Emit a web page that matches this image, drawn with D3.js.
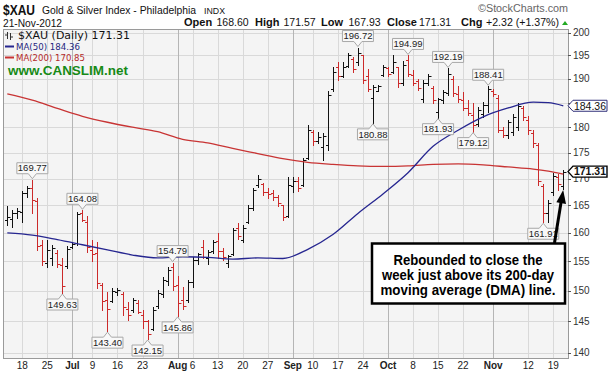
<!DOCTYPE html>
<html>
<head>
<meta charset="utf-8">
<script src="https://cdn.jsdelivr.net/npm/d3@7"></script>
<style>
body { margin: 0; background: #fff; }
svg { display: block; font-family: "Liberation Sans", Arial, sans-serif; }
</style>
</head>
<body>
<svg width="610" height="374"></svg>
<script>
// trading days, Jun 13 - Nov 21 2012 (MM-DD)
const dates = [
  "06-13","06-14","06-15","06-18","06-19","06-20","06-21","06-22","06-25","06-26","06-27","06-28","06-29",
  "07-02","07-03","07-05","07-06","07-09","07-10","07-11","07-12","07-13","07-16","07-17","07-18","07-19","07-20",
  "07-23","07-24","07-25","07-26","07-27","07-30","07-31",
  "08-01","08-02","08-03","08-06","08-07","08-08","08-09","08-10","08-13","08-14","08-15","08-16","08-17",
  "08-20","08-21","08-22","08-23","08-24","08-27","08-28","08-29","08-30","08-31",
  "09-04","09-05","09-06","09-07","09-10","09-11","09-12","09-13","09-14","09-17","09-18","09-19","09-20","09-21",
  "09-24","09-25","09-26","09-27","09-28",
  "10-01","10-02","10-03","10-04","10-05","10-08","10-09","10-10","10-11","10-12","10-15","10-16","10-17","10-18","10-19",
  "10-22","10-23","10-24","10-25","10-26","10-31",
  "11-01","11-02","11-05","11-06","11-07","11-08","11-09","11-12","11-13","11-14","11-15","11-16","11-19","11-20","11-21"
];

const open = [
  162.4,162.5,163.5,163.8,167.2,168.3,165.8,157.8,154.8,155.5,156.5,154.3,154.2,
  157.5,158.2,163.6,162.0,157.0,156.5,151.0,148.5,148.3,149.8,149.5,147.0,146.8,148.0,
  146.0,145.0,143.8,147.5,149.5,151.6,154.0,
  151.0,148.5,148.5,151.5,155.3,157.5,155.5,156.8,158.5,156.8,154.8,156.3,160.8,
  158.8,162.0,164.5,168.8,169.0,167.5,167.2,166.5,165.0,163.0,
  168.5,169.5,168.8,174.0,179.0,177.2,176.0,176.5,187.8,192.5,190.6,192.8,194.2,193.5,
  195.0,190.5,186.0,187.5,190.8,
  192.3,191.5,192.5,189.0,194.0,190.8,189.5,185.8,189.0,188.0,183.0,185.5,187.0,190.0,186.8,
  185.5,184.0,182.5,180.6,182.6,184.5,
  187.5,186.0,179.5,178.5,179.0,180.0,184.0,181.5,178.8,176.5,168.5,163.5,167.5,170.2,168.60
];
const high = [
  164.8,164.1,164.5,167.6,168.6,169.77,166.4,158.7,158.7,157.8,157.0,155.5,157.6,
  158.3,163.7,164.08,163.0,158.8,158.3,151.3,149.8,150.4,150.4,149.8,148.1,148.8,148.5,
  146.8,145.2,147.3,150.1,152.3,154.0,154.79,
  152.5,150.6,151.8,155.7,156.5,158.7,157.0,158.7,159.9,157.4,156.1,160.9,161.8,
  161.4,165.0,168.2,170.7,169.2,168.2,167.8,166.9,165.0,170.3,
  170.3,170.3,174.0,180.4,179.4,179.0,178.8,187.4,192.6,193.5,193.5,195.6,194.6,196.72,
  195.1,192.0,188.6,188.7,192.9,
  192.6,195.0,192.6,193.7,194.99,191.8,190.0,189.7,190.9,188.5,186.0,187.6,192.19,190.5,188.4,
  187.2,185.5,184.9,184.2,185.2,188.41,
  187.8,186.5,180.0,181.4,182.7,184.9,184.3,182.2,179.4,176.8,169.0,166.0,171.0,170.8,171.57
];
const low = [
  161.4,161.0,162.7,162.0,166.6,163.5,157.0,154.4,154.0,154.4,154.0,149.63,153.8,
  157.3,157.9,162.1,156.6,155.0,150.5,146.8,143.40,148.2,149.3,146.0,145.2,146.5,146.3,
  143.9,142.15,143.6,147.2,149.0,151.0,150.2,
  145.86,147.0,148.1,150.6,154.6,155.5,154.6,156.5,155.5,155.2,154.0,156.1,159.0,
  158.3,161.8,164.1,168.4,166.9,166.4,166.0,164.8,162.3,162.8,
  167.4,167.6,168.5,173.7,176.4,176.8,173.5,175.4,187.4,189.7,190.3,192.6,191.4,193.0,
  189.2,187.4,180.88,187.4,190.5,
  190.5,191.3,188.3,188.6,190.5,188.6,187.6,185.2,188.7,185.0,181.93,185.0,186.5,186.3,185.1,
  183.4,182.4,179.12,180.3,182.1,183.0,
  186.3,179.0,178.0,177.8,178.4,179.4,181.4,178.6,176.1,168.8,161.91,162.0,166.9,167.9,167.93
];
const close = [
  162.9,163.6,164.0,167.3,168.2,166.0,157.6,155.0,157.0,157.3,154.5,150.8,157.2,
  158.0,163.4,162.3,157.5,156.3,151.3,148.3,147.0,150.0,150.2,147.3,146.0,148.4,146.5,
  145.0,143.0,146.9,149.6,151.8,153.6,150.8,
  148.0,147.5,151.5,155.3,156.2,155.8,156.7,158.3,156.8,155.8,156.0,160.6,159.5,
  160.9,164.5,167.8,170.0,167.5,167.0,166.5,165.5,162.8,168.8,
  169.6,168.2,173.6,179.5,177.2,178.0,178.2,186.5,191.5,190.5,192.5,195.0,192.0,195.5,
  189.8,187.8,188.2,188.5,192.5,
  191.0,193.5,189.0,193.0,191.0,189.2,188.0,189.0,190.5,185.5,185.8,187.2,191.0,187.0,185.8,
  184.0,182.8,180.5,183.5,184.5,187.8,
  186.7,179.5,178.5,181.0,182.0,184.3,182.0,179.5,176.8,169.5,163.5,165.5,170.5,168.99,171.31
];

// moving averages
const maDates = ["06-13","06-20","06-27","07-05","07-12","07-19","07-26","08-02","08-09","08-16","08-23","08-30",
  "09-07","09-14","09-21","09-28","10-05","10-12","10-19","10-26","11-06","11-13","11-16","11-21"];
const ma50 = [160.0,159.6,158.8,157.9,157.0,156.1,155.6,155.8,155.7,155.4,155.6,155.5,
  157.1,159.7,163.5,167.1,171.1,176.2,179.4,182.1,183.9,185.1,185.0,184.36];
const ma200 = [186.8,185.5,183.8,182.2,181.0,180.0,179.1,177.6,176.9,175.8,174.8,173.8,
  173.1,172.7,172.4,172.3,172.4,172.7,172.8,172.6,172.2,171.8,171.4,170.85];

// high / low call-outs
const calloutDates = ["06-20","07-05","06-28","07-12","07-24","07-31","08-01","09-21","09-26","10-05","10-15","10-17","10-24","10-31","11-15"];
const calloutValues = [169.77,164.08,149.63,143.40,142.15,154.79,145.86,196.72,180.88,194.99,181.93,192.19,179.12,188.41,161.91];
const calloutSide = ["hi","hi","lo","lo","lo","hi","lo","hi","lo","hi","lo","hi","lo","hi","lo"];

const yTicks = [140,145,150,155,160,165,170,175,180,185,190,195,200];
const yTickLabels = ["140","145","150","155","160","165","170","175","180","","190","195","200"];
const tickDates = ["06-18","06-25","07-02","07-09","07-16","07-23","08-01","08-06","08-13","08-20","08-27",
  "09-04","09-10","09-17","09-24","10-01","10-08","10-15","10-22","11-01","11-12","11-19"];
const tickLabels = ["18","25","Jul","9","16","23","Aug","6","13","20","27","Sep","10","17","24","Oct","8","15","22","Nov","12","19"];

const svg = d3.select("svg");
const X0 = 3, X1 = 568, Y0 = 29, Y1 = 358;
const x = d3.scalePoint().domain(dates).range([7.3, 563.3]);
const y = d3.scaleLog().domain([140, 200]).range([352.7, 32.7]);
const crisp = v => Math.round(v) + 0.5;
const isMonth = t => isNaN(+t);

svg.append("rect").attr("width", 610).attr("height", 374).attr("fill", "#fff");
svg.append("rect")
    .attr("x", X0 + 0.5).attr("y", Y0 + 0.5)
    .attr("width", X1 - X0).attr("height", Y1 - Y0)
    .attr("fill", "#f4f4f4");

// grid
svg.append("g").selectAll("line").data(yTicks).join("line")
    .attr("x1", X0).attr("x2", X1)
    .attr("y1", d => crisp(y(d))).attr("y2", d => crisp(y(d)))
    .attr("stroke", "#d9d9d9");
svg.append("g").selectAll("line").data(tickDates).join("line")
    .attr("x1", d => crisp(x(d))).attr("x2", d => crisp(x(d)))
    .attr("y1", Y0).attr("y2", Y1)
    .attr("stroke", (d, i) => isMonth(tickLabels[i]) ? "#b5b5b5" : "#d9d9d9");

svg.append("rect")
    .attr("x", X0 + 0.5).attr("y", Y0 + 0.5)
    .attr("width", X1 - X0).attr("height", Y1 - Y0)
    .attr("fill", "none").attr("stroke", "#9a9a9a");

// y axis (right)
const yAx = svg.append("g");
yAx.selectAll("line").data(yTicks).join("line")
    .attr("x1", X1).attr("x2", X1 + 3)
    .attr("y1", d => crisp(y(d))).attr("y2", d => crisp(y(d)))
    .attr("stroke", "#555");
yAx.selectAll("text").data(yTicks).join("text")
    .attr("x", X1 + 5).attr("y", d => y(d) + 3.5)
    .attr("font-size", 10).attr("fill", "#333")
    .text((d, i) => yTickLabels[i]);

// x axis labels
svg.append("g").selectAll("text").data(tickDates).join("text")
    .attr("x", d => x(d)).attr("y", 369)
    .attr("text-anchor", "middle")
    .attr("font-size", 10)
    .attr("font-weight", (d, i) => isMonth(tickLabels[i]) ? "bold" : "normal")
    .attr("fill", "#222")
    .text((d, i) => tickLabels[i]);

// OHLC bars
const upColor = "#111", downColor = "#cc2a2a";
const bars = svg.append("g").attr("stroke-width", 1);
dates.forEach((d, i) => {
    const px = crisp(x(d));
    const col = (i === 0 || close[i] >= close[i - 1]) ? upColor : downColor;
    bars.append("line").attr("x1", px).attr("x2", px)
        .attr("y1", Math.round(y(high[i]))).attr("y2", Math.round(y(low[i])) + 1)
        .attr("stroke", col);
    bars.append("line").attr("x1", px - 2.5).attr("x2", px)
        .attr("y1", crisp(y(open[i]))).attr("y2", crisp(y(open[i])))
        .attr("stroke", col);
    bars.append("line").attr("x1", px).attr("x2", px + 3)
        .attr("y1", crisp(y(close[i]))).attr("y2", crisp(y(close[i])))
        .attr("stroke", col);
});

// moving averages
const maLine = vals => d3.line()
    .curve(d3.curveMonotoneX)
    .x((d, i) => x(d))
    .y((d, i) => y(vals[i]))(maDates);
svg.append("path").attr("d", maLine(ma200)).attr("fill", "none")
    .attr("stroke", "#c83434").attr("stroke-width", 1.3);
svg.append("path").attr("d", maLine(ma50)).attr("fill", "none")
    .attr("stroke", "#262690").attr("stroke-width", 1.3);

// call-outs
const co = svg.append("g");
calloutDates.forEach((d, i) => {
    const v = calloutValues[i], cx = x(d), py = y(v);
    const w = 31, h = 11, hw = w / 2;
    let p, b;
    if (calloutSide[i] === "hi") {
        b = py - 6;
        const t = b - h;
        p = `M${cx - hw},${t}H${cx + hw}V${b}H${cx + 4}L${cx},${py - 1}L${cx - 4},${b}H${cx - hw}Z`;
    } else {
        const t = py + 6;
        b = t + h;
        p = `M${cx - hw},${t}H${cx - 4}L${cx},${py + 1}L${cx + 4},${t}H${cx + hw}V${b}H${cx - hw}Z`;
    }
    co.append("path").attr("d", p).attr("fill", "#f8f8f8").attr("stroke", "#a8a8a8");
    co.append("text").attr("x", cx).attr("y", b - 2.3).attr("text-anchor", "middle")
        .attr("font-size", 9.5).attr("fill", "#222").text(v.toFixed(2));
});

// right-edge value tags
function tag(v, stroke, bold) {
    const ty = y(v);
    svg.append("path")
        .attr("d", `M${X1},${ty}L${X1 + 5},${ty - 5.5}H607V${ty + 5.5}H${X1 + 5}Z`)
        .attr("fill", "#fff").attr("stroke", stroke).attr("stroke-width", bold ? 1.4 : 1);
    svg.append("text").attr("x", 590).attr("y", ty + 3.8).attr("text-anchor", "middle")
        .attr("font-size", 10.5).attr("font-weight", bold ? "bold" : "normal")
        .attr("fill", "#111").text(v.toFixed(2));
}
tag(ma50[ma50.length - 1], "#30307a", false);
tag(close[close.length - 1], "#000", true);

// header
const txt = (xx, yy, s, size, opts = {}) => {
    const t = svg.append("text").attr("x", xx).attr("y", yy).attr("font-size", size)
        .attr("fill", opts.fill || "#111").text(s);
    if (opts.bold) t.attr("font-weight", "bold");
    if (opts.len) t.attr("textLength", opts.len).attr("lengthAdjust", "spacingAndGlyphs");
    if (opts.family) t.attr("font-family", opts.family);
    return t;
};
txt(3, 14.5, "$XAU", 15, {bold: true, len: 32});
txt(42, 13.5, "Gold & Silver Index - Philadelphia", 11, {len: 154});
txt(204, 13.5, "INDX", 8.5, {len: 21});
txt(3, 26.5, "21-Nov-2012", 10, {len: 59});
txt(184, 26, "Open", 11, {bold: true});
txt(216.5, 26, "168.60", 10.5);
txt(255, 26, "High", 11, {bold: true});
txt(283.5, 26, "171.57", 10.5);
txt(321, 26, "Low", 11, {bold: true});
txt(348.5, 26, "167.93", 10.5);
txt(387, 26, "Close", 11, {bold: true});
txt(419, 26, "171.31", 10.5);
txt(461, 26, "Chg", 11, {bold: true});
txt(486, 26, "+2.32 (+1.37%)", 10.5, {len: 73});
svg.append("path").attr("d", "M562,25L568,25L565,21Z").attr("fill", "#22aa22");
txt(478, 11.5, "\u00a9StockCharts.com", 10, {fill: "#666", len: 90});

// legend
const lg = svg.append("g").attr("stroke", "#333").attr("stroke-width", 1);
lg.append("path").attr("d", "M7.5,32V39M5,35H7.5M10.5,33V40M10.5,37H13");
txt(18, 38.5, "$XAU (Daily) 171.31", 10, {len: 112, family: "'DejaVu Sans', sans-serif"});
svg.append("line").attr("x1", 5).attr("x2", 14).attr("y1", 46.5).attr("y2", 46.5)
    .attr("stroke", "#262690").attr("stroke-width", 2);
txt(16, 50, "MA(50) 184.36", 9.5, {fill: "#262680", len: 64, family: "'DejaVu Sans', sans-serif"});
svg.append("line").attr("x1", 5).attr("x2", 14).attr("y1", 57.5).attr("y2", 57.5)
    .attr("stroke", "#c83434").attr("stroke-width", 2);
txt(16, 61, "MA(200) 170.85", 9.5, {fill: "#b52a2a", len: 69, family: "'DejaVu Sans', sans-serif"});
txt(8, 74.5, "www.CANSLIM.net", 13, {bold: true, fill: "#178a17", len: 120});

// annotation
svg.append("rect").attr("x", 372).attr("y", 243.5).attr("width", 193).attr("height", 60)
    .attr("fill", "#fff").attr("stroke", "#000").attr("stroke-width", 2.5);
const note = ["Rebounded to close the", "week just above its 200-day", "moving average (DMA) line."];
const noteLen = [149, 172, 175];
note.forEach((s, i) => {
    svg.append("text").attr("x", 468).attr("y", 265 + i * 15)
        .attr("text-anchor", "middle").attr("font-size", 14).attr("font-weight", "bold")
        .attr("textLength", noteLen[i]).attr("lengthAdjust", "spacingAndGlyphs")
        .attr("fill", "#000").text(s);
});
svg.append("line").attr("x1", 554.5).attr("y1", 243).attr("x2", 561.1).attr("y2", 202)
    .attr("stroke", "#000").attr("stroke-width", 3);
svg.append("path").attr("d", "M563.2,190L566,204L556.4,202.3Z").attr("fill", "#000");
</script>
</body>
</html>
